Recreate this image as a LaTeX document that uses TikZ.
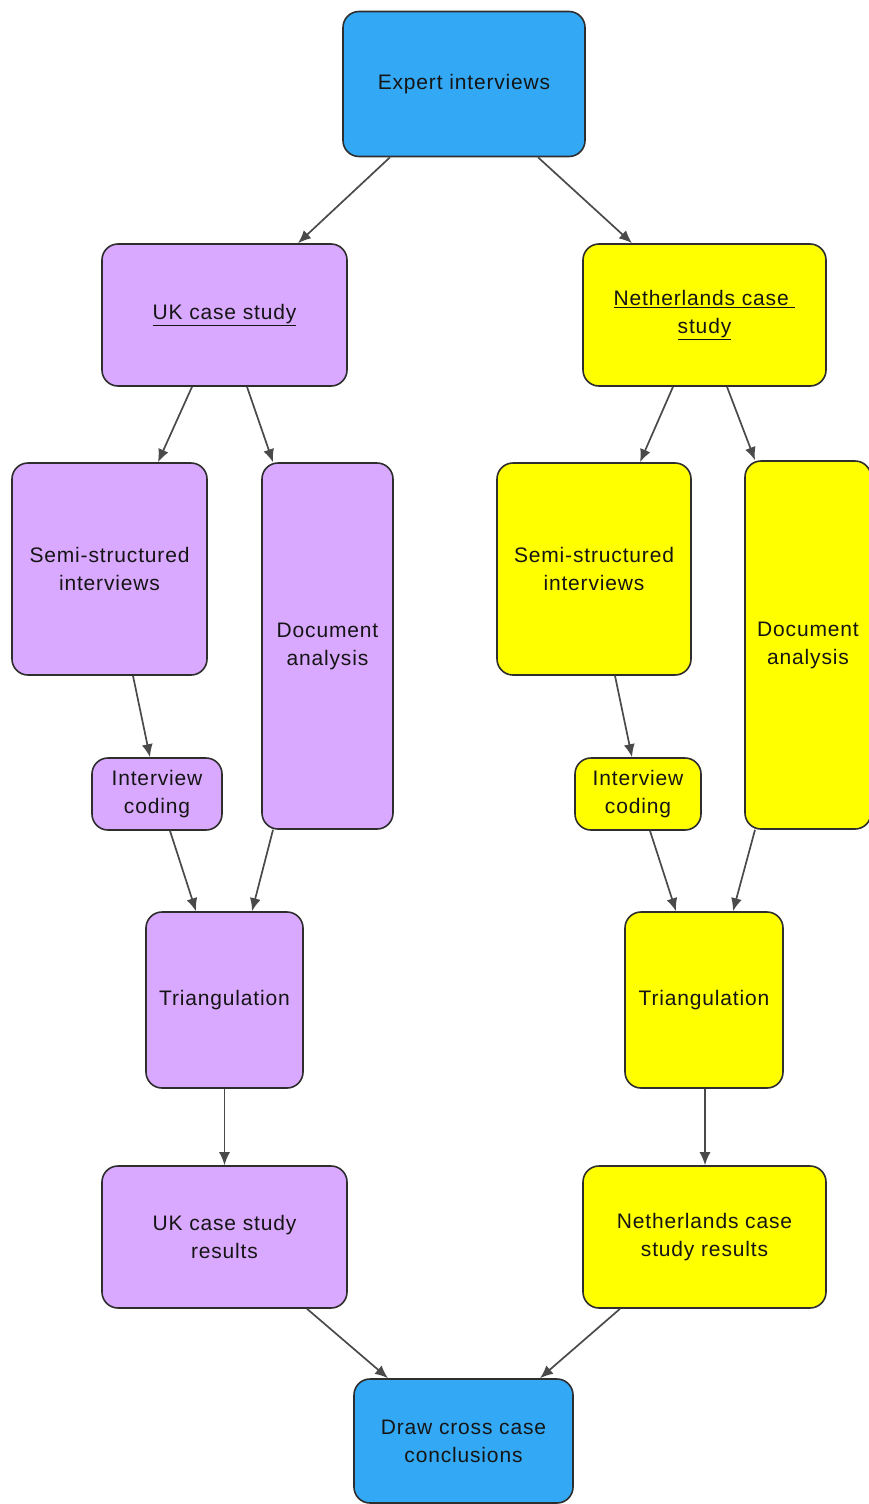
\documentclass[tikz,border=0pt]{standalone}
\usepackage{fontspec}
\setmainfont{Liberation Sans}[LetterSpace=4]
\usetikzlibrary{arrows.meta}
\definecolor{boxblue}{HTML}{33A9F5}
\definecolor{boxpurple}{HTML}{D9A8FF}
\definecolor{boxyellow}{HTML}{FFFF00}
\definecolor{edgegray}{HTML}{2E2E2E}
\definecolor{arrgray}{HTML}{4A4A4A}
\definecolor{txt}{HTML}{151515}
\tikzset{
  box/.style={draw=edgegray, line width=1.6pt, rounded corners=16pt, align=center,
    inner sep=0pt, text=txt, font=\fontsize{21}{28}\selectfont},
  bluebox/.style={box, fill=boxblue},
  purplebox/.style={box, fill=boxpurple},
  yellowbox/.style={box, fill=boxyellow},
  arr/.style={draw=arrgray, line width=1.7pt, -{Latex[length=13pt,width=11pt]}},
}
\begin{document}
\begin{tikzpicture}[x=1pt,y=-1pt]
\fill[white] (0,0) rectangle (869,1504);
\useasboundingbox (0,0) rectangle (869,1504);
% top
\node[bluebox, minimum width=242pt, minimum height=145pt] (expert) at (464,84) {Expert interviews};
% UK
\node[purplebox, minimum width=245pt, minimum height=142pt] (uk) at (224.5,315) {\underline{UK case study}};
\node[purplebox, minimum width=195pt, minimum height=212pt] (ukSemi) at (109.5,569) {Semi-structured\\interviews};
\node[purplebox, minimum width=131pt, minimum height=366pt] (ukDoc) at (327.5,646) {Document\\analysis};
\node[purplebox, minimum width=130pt, minimum height=72pt] (ukCode) at (157,794) {Interview\\coding};
\node[purplebox, minimum width=157pt, minimum height=176pt] (ukTri) at (224.5,1000) {Triangulation};
\node[purplebox, minimum width=245pt, minimum height=142pt] (ukRes) at (224.5,1237) {UK case study\\results};
% NL
\node[yellowbox, minimum width=243pt, minimum height=142pt] (nl) at (704.5,315) {\underline{Netherlands case~}\\\underline{study}};
\node[yellowbox, minimum width=194pt, minimum height=212pt] (nlSemi) at (594,569) {Semi-structured\\interviews};
\node[yellowbox, minimum width=126pt, minimum height=368pt] (nlDoc) at (808,645) {Document\\analysis};
\node[yellowbox, minimum width=126pt, minimum height=72pt] (nlCode) at (638,794) {Interview\\coding};
\node[yellowbox, minimum width=158pt, minimum height=176pt] (nlTri) at (704,1000) {Triangulation};
\node[yellowbox, minimum width=243pt, minimum height=142pt] (nlRes) at (704.5,1237) {Netherlands case\\study results};
% bottom
\node[bluebox, minimum width=219pt, minimum height=124pt] (draw) at (463.5,1441) {Draw cross case~\\conclusions};
% arrows
\draw[arr] ([xshift=-74pt]expert.south) -- ([xshift=73.5pt]uk.north);
\draw[arr] ([xshift=74pt]expert.south) -- ([xshift=-72.5pt]nl.north);
\draw[arr] ([xshift=-32.5pt]uk.south) -- ([xshift=48.5pt]ukSemi.north);
\draw[arr] ([xshift=22.5pt]uk.south) -- ([xshift=-54.5pt]ukDoc.north);
\draw[arr] ([xshift=23.5pt]ukSemi.south) -- ([xshift=-7pt]ukCode.north);
\draw[arr] ([xshift=13pt]ukCode.south) -- ([xshift=-28.5pt]ukTri.north);
\draw[arr] ([xshift=-54.5pt]ukDoc.south) -- ([xshift=27.5pt]ukTri.north);
\draw[arr] (ukTri.south) -- (ukRes.north);
\draw[arr] ([xshift=82.5pt]ukRes.south) -- ([xshift=-75.5pt]draw.north);
\draw[arr] ([xshift=-31.5pt]nl.south) -- ([xshift=46pt]nlSemi.north);
\draw[arr] ([xshift=22.5pt]nl.south) -- ([xshift=-53pt]nlDoc.north);
\draw[arr] ([xshift=21pt]nlSemi.south) -- ([xshift=-6pt]nlCode.north);
\draw[arr] ([xshift=12pt]nlCode.south) -- ([xshift=-28pt]nlTri.north);
\draw[arr] ([xshift=-53pt]nlDoc.south) -- ([xshift=29pt]nlTri.north);
\draw[arr] ([xshift=1pt]nlTri.south) -- ([xshift=0.5pt]nlRes.north);
\draw[arr] ([xshift=-84.5pt]nlRes.south) -- ([xshift=76.5pt]draw.north);
\end{tikzpicture}
\end{document}
